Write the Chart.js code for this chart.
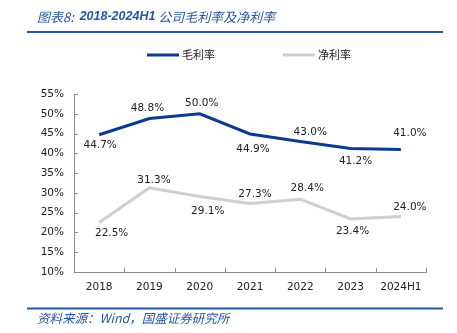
<!DOCTYPE html>
<html>
<head>
<meta charset="utf-8">
<script src="https://cdn.jsdelivr.net/npm/chart.js@4"></script>
<style>
html,body{margin:0;padding:0;background:#fff;}
canvas{display:block;}
</style>
</head>
<body>
<canvas id="c" width="457" height="333"></canvas>
<script>
// ---- data ----
const categories = ['2018','2019','2020','2021','2022','2023','2024H1'];
const grossMargin = [44.7, 48.8, 50.0, 44.9, 43.0, 41.2, 41.0];
const netMargin   = [22.5, 31.3, 29.1, 27.3, 28.4, 23.4, 24.0];
const seriesNames = ['毛利率', '净利率'];
const yTickMin = 10, yTickMax = 55, yTickStep = 5;
const titleParts = ['图表8:  ', '2018-2024H1', ' 公司毛利率及净利率'];
const sourceText = '资料来源：Wind，国盛证券研究所';

// ---- styles (label offsets in px) ----
const grossLabelDx = [1, -2, 2, 3, 10, 5, 9];
const grossLabelDy = [10.5, -10, -10.5, 15, -9, 13, -16];
const netLabelDx = [12.5, 4.5, 8, 5, 7, 2, 9];
const netLabelDy = [11, -7, 14.5, -9.6, -11, 12, -9];
const BLUE = '#0b3b8f';
const GRAY = '#cfcfcf';
const THEME = '#2456a6';
const AXIS = '#8a8a8a';
const NUMFONT = '10.5px "DejaVu Sans"';

const decor = {
  id: 'decor',
  afterDraw(chart) {
    const ctx = chart.ctx;
    const y = chart.scales.y;
    const area = chart.chartArea;
    ctx.save();
    // title
    ctx.fillStyle = THEME;
    ctx.textBaseline = 'middle';
    ctx.textAlign = 'left';
    let tx = 37;
    const fonts = ['italic 13px "Noto Sans CJK SC"', 'bold italic 12.5px "Liberation Sans"', 'italic 13px "Noto Sans CJK SC"'];
    titleParts.forEach((t, i) => {
      ctx.font = fonts[i];
      ctx.fillText(t, tx, 17);
      tx += ctx.measureText(t).width;
    });
    // rules
    ctx.strokeStyle = THEME;
    ctx.lineWidth = 2;
    ctx.beginPath(); ctx.moveTo(27, 32); ctx.lineTo(443, 32); ctx.stroke();
    ctx.beginPath(); ctx.moveTo(27, 308.5); ctx.lineTo(443, 308.5); ctx.stroke();
    // source
    ctx.font = 'italic 12.5px "Noto Sans CJK SC"';
    ctx.fillText(sourceText, 37, 318);
    // legend
    const legendX = [147, 283];
    chart.data.datasets.forEach((ds, i) => {
      ctx.strokeStyle = ds.borderColor;
      ctx.lineWidth = 3;
      ctx.beginPath(); ctx.moveTo(legendX[i], 55); ctx.lineTo(legendX[i] + 32, 55); ctx.stroke();
      ctx.fillStyle = '#222';
      ctx.font = '11px "Noto Sans CJK SC"';
      ctx.fillText(ds.label, legendX[i] + 35, 55);
    });
    // inside ticks
    ctx.strokeStyle = AXIS;
    ctx.lineWidth = 1;
    const n = categories.length;
    const w = (area.right - area.left) / n;
    for (let i = 1; i <= n; i++) {
      const px = Math.round(area.left + i * w) + 0.5;
      ctx.beginPath(); ctx.moveTo(px, area.bottom); ctx.lineTo(px, area.bottom - 4); ctx.stroke();
    }
    y.ticks.forEach(t => {
      const py = Math.round(y.getPixelForValue(t.value)) + 0.5;
      ctx.beginPath(); ctx.moveTo(area.left, py); ctx.lineTo(area.left + 4, py); ctx.stroke();
    });
    // data labels
    ctx.font = NUMFONT;
    ctx.fillStyle = '#222';
    ctx.textAlign = 'center';
    ctx.textBaseline = 'middle';
    const offs = [[grossLabelDx, grossLabelDy], [netLabelDx, netLabelDy]];
    chart.data.datasets.forEach((ds, di) => {
      const meta = chart.getDatasetMeta(di);
      meta.data.forEach((pt, i) => {
        ctx.fillText(ds.data[i].toFixed(1) + '%', pt.x + offs[di][0][i], pt.y + offs[di][1][i]);
      });
    });
    ctx.restore();
  }
};

new Chart(document.getElementById('c'), {
  type: 'line',
  data: {
    labels: categories,
    datasets: [
      { label: seriesNames[0], data: grossMargin, borderColor: BLUE, borderWidth: 3, pointRadius: 0, tension: 0, fill: false, borderCapStyle: 'butt' },
      { label: seriesNames[1], data: netMargin, borderColor: GRAY, borderWidth: 3, pointRadius: 0, tension: 0, fill: false, borderCapStyle: 'butt' }
    ]
  },
  options: {
    responsive: false,
    animation: false,
    devicePixelRatio: 1,
    layout: { padding: { left: 0, right: 31, top: 94, bottom: 36 } },
    plugins: { legend: { display: false }, tooltip: { enabled: false }, title: { display: false } },
    scales: {
      x: {
        offset: true,
        grid: { display: false, offset: true, drawTicks: false },
        border: { display: true, color: AXIS, width: 1 },
        ticks: { color: '#222', font: { family: 'DejaVu Sans', size: 10.5 }, padding: 9, maxRotation: 0, autoSkip: false },
        afterFit(s) { s.height = 25; }
      },
      y: {
        min: yTickMin, max: yTickMax,
        grid: { display: false, drawTicks: false },
        border: { display: true, color: AXIS, width: 1 },
        ticks: { stepSize: yTickStep, color: '#222', font: { family: 'DejaVu Sans', size: 10.5 }, padding: 10, callback: v => v + '%' },
        afterFit(s) { s.width = 74; }
      }
    }
  },
  plugins: [decor]
});
</script>
</body>
</html>
